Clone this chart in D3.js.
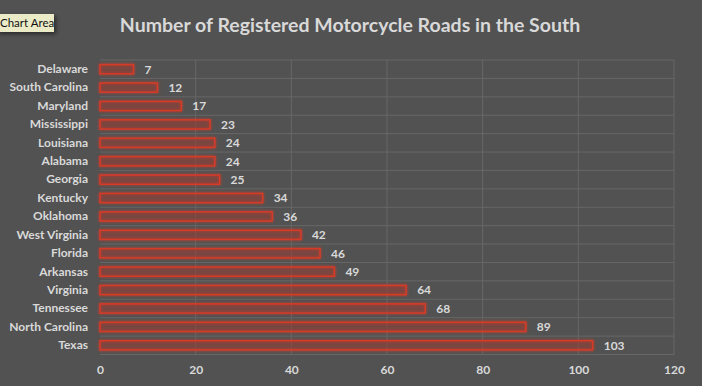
<!DOCTYPE html>
<html>
<head>
<meta charset="utf-8">
<script src="https://cdn.jsdelivr.net/npm/d3@7"></script>
<style>
  html, body { margin: 0; padding: 0; background: #525252; }
  svg { display: block; font-family: Lato, "Open Sans", sans-serif; }
</style>
</head>
<body>
<div id="chart"></div>
<script>
// Data (top to bottom)
const states = ["Delaware", "South Carolina", "Maryland", "Mississippi", "Louisiana", "Alabama",
  "Georgia", "Kentucky", "Oklahoma", "West Virginia", "Florida", "Arkansas", "Virginia",
  "Tennessee", "North Carolina", "Texas"];
const roads = [7, 12, 17, 23, 24, 24, 25, 34, 36, 42, 46, 49, 64, 68, 89, 103];
const xTicks = [0, 20, 40, 60, 80, 100, 120];

const width = 702, height = 386;
const margin = { top: 60, right: 28, bottom: 31, left: 100 };

const svg = d3.select("#chart").append("svg")
  .attr("width", width)
  .attr("height", height);

svg.append("rect")
  .attr("width", width)
  .attr("height", height)
  .attr("fill", "#525252");

// glow around the bars
const defs = svg.append("defs");
const glow = defs.append("filter")
  .attr("id", "glow")
  .attr("x", "-20%").attr("y", "-100%")
  .attr("width", "140%").attr("height", "300%");
glow.append("feGaussianBlur").attr("in", "SourceGraphic").attr("stdDeviation", 1.8).attr("result", "blur");
const merge = glow.append("feMerge");
merge.append("feMergeNode").attr("in", "blur");
merge.append("feMergeNode").attr("in", "SourceGraphic");

// soft shadow for the tooltip
const shadow = defs.append("filter").attr("id", "shadow")
  .attr("x", "-20%").attr("y", "-40%").attr("width", "150%").attr("height", "200%");
shadow.append("feDropShadow").attr("dx", 2).attr("dy", 2).attr("stdDeviation", 2)
  .attr("flood-color", "#000").attr("flood-opacity", 0.5);

const x = d3.scaleLinear()
  .domain([0, 120])
  .range([margin.left, width - margin.right]);

const plotBottom = height - margin.bottom - 0.5;
const y = d3.scaleBand()
  .domain(states)
  .range([margin.top, plotBottom])
  .paddingInner(0.5)
  .paddingOuter(0.25);

// Gridlines
const grid = svg.append("g");
const rowEdges = d3.range(states.length + 1)
  .map(i => margin.top + i * (plotBottom - margin.top) / states.length);
grid.selectAll("line.h")
  .data(rowEdges)
  .join("line")
  .attr("x1", x(0)).attr("x2", x(120))
  .attr("y1", d => d).attr("y2", d => d)
  .attr("stroke", "#676767")
  .attr("stroke-width", 1);
grid.selectAll("line.v")
  .data(xTicks.slice(1))
  .join("line")
  .attr("x1", d => x(d)).attr("x2", d => x(d))
  .attr("y1", margin.top).attr("y2", plotBottom)
  .attr("stroke", "#676767")
  .attr("stroke-width", 1);

// Title
svg.append("text")
  .attr("x", 350)
  .attr("y", 32)
  .attr("text-anchor", "middle")
  .attr("fill", "#d9d9d9")
  .attr("font-size", 19.5)
  .attr("font-weight", "bold")
  .text("Number of Registered Motorcycle Roads in the South");

// Bars
svg.append("g")
  .selectAll("rect")
  .data(states)
  .join("rect")
  .attr("x", x(0))
  .attr("y", d => y(d))
  .attr("width", (d, i) => x(roads[i]) - x(0))
  .attr("height", y.bandwidth())
  .attr("fill", "rgba(150,60,50,0.35)")
  .attr("stroke", "#d63b28")
  .attr("stroke-width", 1.5)
  .attr("filter", "url(#glow)");

// Value labels
svg.append("g")
  .selectAll("text")
  .data(states)
  .join("text")
  .attr("x", (d, i) => x(roads[i]) + 11)
  .attr("y", d => y(d) + y.bandwidth() / 2)
  .attr("dy", "0.36em")
  .attr("fill", "#d9d9d9")
  .attr("font-size", 12)
  .attr("font-weight", "bold")
  .text((d, i) => roads[i]);

// Y axis labels
const yAxis = svg.append("g")
  .attr("transform", `translate(${x(0) - 12},0)`)
  .call(d3.axisLeft(y).tickSize(0).tickPadding(0));
yAxis.select(".domain").remove();
yAxis.selectAll("text")
  .attr("fill", "#d9d9d9")
  .attr("font-size", 12)
  .attr("font-weight", "bold")
  .attr("font-family", "Lato, sans-serif");

// X axis labels
const xAxis = svg.append("g")
  .attr("transform", `translate(0,${height - margin.bottom})`)
  .call(d3.axisBottom(x).tickValues(xTicks).tickSize(0).tickPadding(10));
xAxis.select(".domain").remove();
xAxis.selectAll("text")
  .attr("fill", "#d9d9d9")
  .attr("font-size", 12)
  .attr("font-weight", "bold")
  .attr("font-family", "Lato, sans-serif");

// "Chart Area" hover tip from the screenshot
const tip = svg.append("g").attr("transform", "translate(0,14)");
tip.append("rect")
  .attr("x", -3).attr("y", 0)
  .attr("width", 57).attr("height", 18)
  .attr("fill", "#ebebc8")
  .attr("filter", "url(#shadow)");
tip.append("text")
  .attr("x", 0).attr("y", 13)
  .attr("fill", "#111")
  .attr("font-size", 11.5)
  .text("Chart Area");
</script>
</body>
</html>
